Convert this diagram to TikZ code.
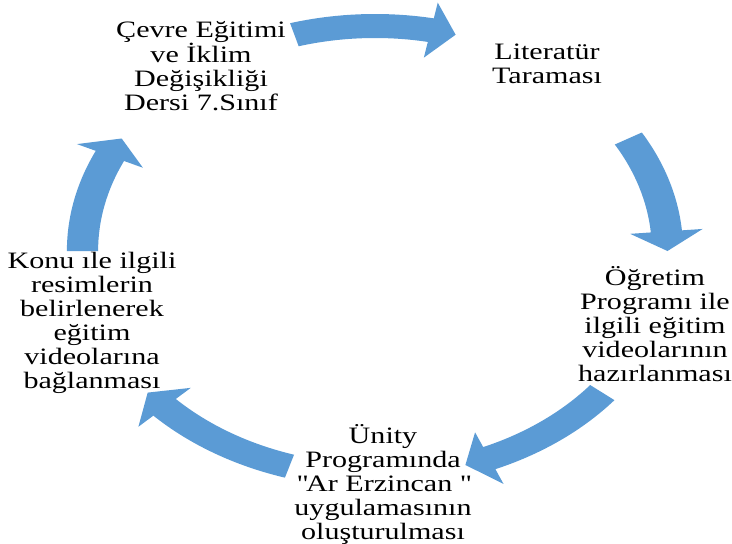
\documentclass[tikz,border=0pt]{standalone}
\usepackage{fontspec}
\setmainfont{Liberation Serif}[FakeStretch=1.28]
\usepackage{tikz}
\usetikzlibrary{positioning,calc}
\definecolor{arrowblue}{RGB}{91,155,213}

\begin{document}
\begin{tikzpicture}[x=1pt, y=1pt,
    cyclelabel/.style={align=center, inner sep=0pt, font=\fontsize{23.5}{24}\selectfont}]
    \useasboundingbox (0,0) rectangle (732,-544);

    % Curved block arrows, tail angle / tip angle
    \begin{scope}[shift={(375,-251)}, xscale=1.3]
        \foreach \ta/\tb in {106/74, 30/0, -39/-72, -107/-141, 180/150}{
            \pgfmathsetmacro{\th}{\tb+5}
            \fill[arrowblue] (\ta:237) arc[start angle=\ta, end angle=\th, radius=237]
                -- (\th:253) -- (\tb:225) -- (\th:197) -- (\th:213)
                arc[start angle=\th, end angle=\ta, radius=213] -- cycle;
        }
    \end{scope}

    % Steps
    \node[cyclelabel] (cevre) at (201,-66) {Çevre Eğitimi\\ve İklim\\Değişikliği\\Dersi 7.Sınıf};
    \node[cyclelabel] (literatur) at (547,-64) {Literatür\\Taraması};
    \node[cyclelabel] (ogretim) at (655,-324) {Öğretim\\Programı ile\\ilgili eğitim\\videolarının\\hazırlanması};
    \node[cyclelabel] (unity) at (383,-484) {Ünity\\Programında\\\textquotedbl Ar Erzincan \textquotedbl\\uygulamasının\\oluşturulması};
    \node[cyclelabel] (konu) at (92,-323) {Konu ıle ilgili\\resimlerin\\belirlenerek\\eğitim\\videolarına\\bağlanması};
\end{tikzpicture}
\end{document}
